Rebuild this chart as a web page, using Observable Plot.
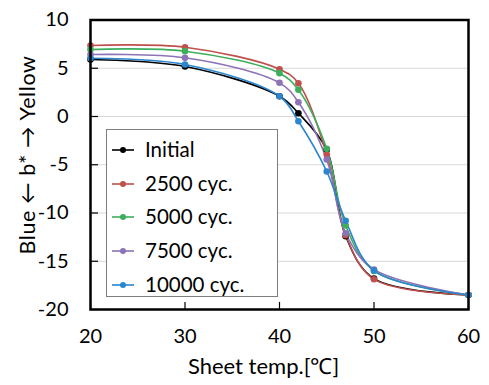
<!DOCTYPE html>
<html><head><meta charset="utf-8">
<script src="https://cdn.jsdelivr.net/npm/d3@7"></script>
<script src="https://cdn.jsdelivr.net/npm/@observablehq/plot@0.6"></script>
<style>
body{margin:0;background:#fff;font-family:Lato,"Liberation Sans",sans-serif;}
#wrap{position:relative;width:489px;height:385px;}
#legend{position:absolute;left:106px;top:129px;width:172px;height:168px;box-sizing:border-box;border:1.5px solid #7f7f7f;background:#fff;}
.item{position:absolute;left:0;height:20px;font-size:20.5px;line-height:20px;color:#000;}
.item svg{position:absolute;left:5px;top:4px;}
.item span{position:absolute;left:38px;top:-1px;white-space:nowrap;}
#ylab{position:absolute;left:27px;top:155px;transform:translate(-50%,-50%) rotate(-90deg);font-size:21.5px;letter-spacing:0.6px;white-space:nowrap;color:#000;}
</style></head>
<body><div id="wrap"><div id="chart"></div><div id="legend"></div><div id="ylab"></div></div>
<script>
const temps = [20, 30, 40, 42, 45, 47, 50, 60];
const seriesNames = ["Initial", "2500 cyc.", "5000 cyc.", "7500 cyc.", "10000 cyc."];
const initial = [5.9, 5.18, 2.1, 0.34, -3.45, -12.4, -16.8, -18.5];
const cyc2500 = [7.36, 7.18, 4.9, 3.45, -3.94, -12.3, -16.86, -18.5];
const cyc5000 = [6.94, 6.77, 4.49, 2.77, -3.35, -11.3, -16.0, -18.5];
const cyc7500 = [6.42, 6.08, 3.49, 1.48, -4.46, -12.1, -15.85, -18.5];
const cyc10000 = [6.04, 5.39, 2.1, -0.49, -5.7, -10.8, -15.96, -18.5];
const colors = ["#000000", "#c0504d", "#3dae5c", "#8c72b6", "#2a86cf"];
const xTicks = [20, 30, 40, 50, 60];
const yTicks = [-20, -15, -10, -5, 0, 5, 10];
const xLabel = "Sheet temp.[\u2103]";
const yLabel = "Blue \u2190 b* \u2192 Yellow";

const allSeries = [initial, cyc2500, cyc5000, cyc7500, cyc10000];
const data = [];
allSeries.forEach((vals, i) => vals.forEach((v, j) => data.push({t: temps[j], b: v, s: seriesNames[i]})));

const W = 489, H = 385, mL = 90, mR = 21, mT = 19.5, mB = 76;
const pw = W - mL - mR, ph = H - mT - mB;

const chart = Plot.plot({
  width: W, height: H,
  marginLeft: mL, marginRight: mR, marginTop: mT, marginBottom: mB,
  style: {fontFamily: "Lato, 'Liberation Sans', sans-serif", fontSize: "20px", color: "#000", background: "#fff"},
  x: {domain: [20, 60], ticks: xTicks},
  y: {domain: [-20, 10], ticks: yTicks},
  color: {domain: seriesNames, range: colors},
  marks: [
    Plot.gridY(yTicks, {stroke: "#d9d9d9", strokeOpacity: 1, strokeWidth: 1.2}),
    Plot.axisX(xTicks, {tickSize: 0, tickPadding: 19, label: null, fontSize: 20, tickFormat: d => String(d)}),
    Plot.axisY(yTicks, {tickSize: 0, tickPadding: 22, label: null, fontSize: 20, tickFormat: d => String(d)}),
    Plot.tickY(yTicks, {y: d => d, insetRight: pw - 8, stroke: "#000", strokeWidth: 1.2}),
    Plot.tickX(xTicks, {x: d => d, insetTop: ph - 7, stroke: "#000", strokeWidth: 1.2}),
    Plot.line(data, {x: "t", y: "b", z: "s", stroke: "s", curve: "catmull-rom", strokeWidth: 1.6}),
    Plot.dot(data, {x: "t", y: "b", fill: "s", r: 3.3}),
    Plot.frame({stroke: "#000", strokeWidth: 2.5}),
    Plot.text([xLabel], {frameAnchor: "bottom", dy: 64, dx: -16, fontSize: 22, text: d => d})
  ]
});
document.getElementById("chart").appendChild(chart);
document.getElementById("ylab").textContent = yLabel;

const leg = document.getElementById("legend");
seriesNames.forEach((n, i) => {
  const d = document.createElement("div");
  d.className = "item";
  d.style.top = (10 + i * 33.7) + "px";
  d.innerHTML = `<svg width="24" height="12"><line x1="0" x2="22" y1="6" y2="6" stroke="${colors[i]}" stroke-width="1.6"/><circle cx="11" cy="6" r="3" fill="${colors[i]}"/></svg><span>${n}</span>`;
  leg.appendChild(d);
});
</script></body></html>
